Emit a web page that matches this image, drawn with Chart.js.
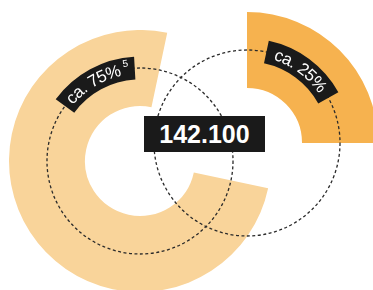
<!DOCTYPE html>
<html>
<head>
<meta charset="utf-8">
<script src="https://cdn.jsdelivr.net/npm/chart.js@4"></script>
<style>
  body { margin: 0; background: #fff; width: 373px; height: 290px; overflow: hidden; position: relative; font-family: "Liberation Sans", Arial, Helvetica, sans-serif; }
  canvas { position: absolute; }
  #big { left: 9px; top: 30px; }
  #small { left: 116px; top: 12px; }
  #total {
    position: absolute; left: 144px; top: 116px; width: 121px; height: 36px;
    background: #1a1a1a; color: #fff; font-weight: bold; font-size: 25px;
    line-height: 36px; text-align: center;
  }
</style>
</head>
<body>
<canvas id="big" width="262" height="262"></canvas>
<canvas id="small" width="262" height="262"></canvas>
<div id="total"></div>

<script>
// data
const totalLabel = '142.100';
const bigShares = [75, 25];     // share shown, rest hidden
const smallShares = [25, 75];
const bigLabel = 'ca. 75%';
const bigNote = '5';
const smallLabel = 'ca. 25%';

const PALE = '#f9d49a';
const ORANGE = '#f6b24f';
const INK = '#1a1a1a';
const LABEL_FONT = '17px "Liberation Sans", Arial, sans-serif';
const NOTE_FONT = '10px "Liberation Sans", Arial, sans-serif';

document.getElementById('total').textContent = totalLabel;

// dashed mid circle + curved label in a black band
const ringDecor = {
  id: 'ringDecor',
  afterDatasetsDraw(chart, args, opts) {
    const ctx = chart.ctx;
    const arc = chart.getDatasetMeta(0).data[0];
    const { x, y, innerRadius, outerRadius } = arc.getProps(['x', 'y', 'innerRadius', 'outerRadius'], true);
    const r = (innerRadius + outerRadius) / 2;

    ctx.save();
    ctx.strokeStyle = '#2a2a2a';
    ctx.lineWidth = 1.3;
    ctx.setLineDash([3, 2.5]);
    ctx.beginPath();
    ctx.arc(x, y, r, 0, Math.PI * 2);
    ctx.stroke();
    ctx.setLineDash([]);

    // measure text
    ctx.font = LABEL_FONT;
    const chars = opts.text.split('');
    const widths = chars.map(c => ctx.measureText(c).width);
    const textW = widths.reduce((s, w) => s + w, 0);
    let supW = 0;
    if (opts.sup) {
      ctx.font = NOTE_FONT;
      supW = ctx.measureText(opts.sup).width + 3;
    }
    const totalW = textW + supW + opts.pad * 2;
    const mid = opts.angle * Math.PI / 180;
    const a0 = mid - totalW / 2 / r;
    const a1 = mid + totalW / 2 / r;

    // band
    ctx.fillStyle = INK;
    ctx.beginPath();
    ctx.arc(x, y, r + 11.5, a0 - Math.PI / 2, a1 - Math.PI / 2);
    ctx.arc(x, y, r - 11.5, a1 - Math.PI / 2, a0 - Math.PI / 2, true);
    ctx.closePath();
    ctx.fill();

    // letters along the arc
    ctx.fillStyle = '#fff';
    ctx.textAlign = 'center';
    ctx.textBaseline = 'middle';
    ctx.font = LABEL_FONT;
    let pos = a0 + opts.pad / r;
    chars.forEach((c, i) => {
      const t = pos + widths[i] / 2 / r;
      ctx.save();
      ctx.translate(x + r * Math.sin(t), y - r * Math.cos(t));
      ctx.rotate(t);
      ctx.fillText(c, 0, 1);
      ctx.restore();
      pos += widths[i] / r;
    });
    if (opts.sup) {
      ctx.font = NOTE_FONT;
      const t = pos + (supW / 2 + 1.5) / r;
      const rs = r + 5;
      ctx.save();
      ctx.translate(x + rs * Math.sin(t), y - rs * Math.cos(t));
      ctx.rotate(t);
      ctx.fillText(opts.sup, 0, 0);
      ctx.restore();
    }
    ctx.restore();
  }
};

function ring(id, shares, color, rotation, label) {
  return new Chart(document.getElementById(id), {
    type: 'doughnut',
    data: {
      datasets: [{
        data: shares,
        backgroundColor: [color, 'rgba(0,0,0,0)'],
        borderWidth: 0
      }]
    },
    options: {
      responsive: false,
      animation: false,
      rotation: rotation,
      cutout: '42%',
      layout: { padding: 0 },
      events: [],
      plugins: {
        legend: { display: false },
        tooltip: { enabled: false },
        ringDecor: label
      }
    },
    plugins: [ringDecor]
  });
}

ring('big', bigShares, PALE, 102, { text: bigLabel, sup: bigNote, angle: -28.5, pad: 6 });
ring('small', smallShares, ORANGE, 0, { text: smallLabel, sup: '', angle: 36.5, pad: 9 });
</script>
</body>
</html>
